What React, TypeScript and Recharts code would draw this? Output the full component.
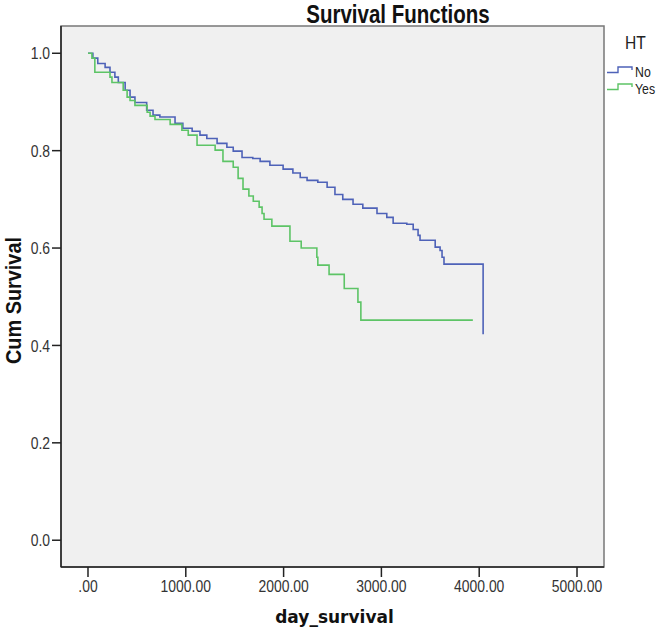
import { Line, LineChart, ReferenceArea, XAxis, YAxis } from "recharts";

// Kaplan-Meier steps, HT = No / Yes
const noDays = [0, 50, 100, 175, 225, 275, 310, 380, 430, 480, 600, 665, 735, 890, 970, 1065, 1145, 1215, 1320, 1420, 1485, 1575, 1685, 1760, 1860, 1995, 2095, 2170, 2240, 2350, 2445, 2525, 2605, 2710, 2810, 2955, 3055, 3120, 3260, 3325, 3375, 3395, 3550, 3600, 3620, 3640, 4040];
const noSurv = [1.0, 0.99, 0.979, 0.971, 0.961, 0.951, 0.94, 0.924, 0.91, 0.899, 0.883, 0.873, 0.869, 0.856, 0.846, 0.84, 0.832, 0.825, 0.815, 0.807, 0.799, 0.786, 0.784, 0.778, 0.77, 0.762, 0.754, 0.745, 0.739, 0.735, 0.725, 0.71, 0.7, 0.69, 0.682, 0.671, 0.663, 0.651, 0.649, 0.638, 0.626, 0.616, 0.602, 0.595, 0.581, 0.567, 0.423];

const yesDays = [0, 40, 70, 225, 245, 360, 400, 430, 480, 605, 635, 685, 840, 960, 1025, 1115, 1300, 1380, 1485, 1535, 1585, 1645, 1690, 1750, 1780, 1800, 1880, 2065, 2180, 2340, 2350, 2465, 2620, 2760, 2790, 3935];
const yesSurv = [1.0, 0.99, 0.961, 0.951, 0.94, 0.924, 0.91, 0.903, 0.893, 0.879, 0.871, 0.864, 0.854, 0.842, 0.832, 0.811, 0.801, 0.778, 0.766, 0.743, 0.721, 0.707, 0.696, 0.684, 0.671, 0.659, 0.645, 0.614, 0.6, 0.581, 0.565, 0.546, 0.517, 0.489, 0.452, 0.452];

const xTicks = [0, 1000, 2000, 3000, 4000, 5000];
const yTicks = [0, 0.2, 0.4, 0.6, 0.8, 1.0];
const groups = ["No", "Yes"];

const X_DOMAIN: [number, number] = [-276, 5276];
const Y_DOMAIN: [number, number] = [-0.055, 1.056];

const BLUE = "#4e62b8";
const GREEN = "#5dc466";
const FONT = "'Liberation Sans', Arial, sans-serif";
const SQUEEZE = 0.82; // the original uses a narrow face

const noData = noDays.map((t, i) => ({ t, s: noSurv[i] }));
const yesData = yesDays.map((t, i) => ({ t, s: yesSurv[i] }));

const fmtX = (v: number) => (v === 0 ? ".00" : v.toFixed(2));

function XTick({ x, y, payload }: any) {
  return (
    <text transform={`translate(${x}, ${y}) scale(${SQUEEZE}, 1)`} textAnchor="middle" dy="0.71em"
      style={{ fontFamily: FONT, fontSize: 17, fill: "#333" }}>
      {fmtX(payload.value)}
    </text>
  );
}

function YTick({ x, y, payload }: any) {
  return (
    <text transform={`translate(${x}, ${y}) scale(${SQUEEZE}, 1)`} textAnchor="end" dy="0.36em"
      style={{ fontFamily: FONT, fontSize: 17, fill: "#333" }}>
      {payload.value.toFixed(1)}
    </text>
  );
}

function YTitle({ viewBox }: any) {
  const cy = viewBox.y + viewBox.height / 2 + 4;
  return (
    <text x={13} y={cy} transform={`rotate(-90, 13, ${cy})`} textAnchor="middle" dominantBaseline="central"
      textLength={127} lengthAdjust="spacingAndGlyphs"
      style={{ fontFamily: FONT, fontWeight: 700, fontSize: 22, fill: "#111" }}>
      Cum Survival
    </text>
  );
}

function XTitle({ viewBox }: any) {
  const cx = viewBox.x + viewBox.width / 2 + 2;
  return (
    <text x={cx} y={617} textAnchor="middle" dominantBaseline="central"
      style={{ fontFamily: "'DejaVu Sans', sans-serif", fontWeight: 700, fontSize: 17, fill: "#111" }}>
      day_survival
    </text>
  );
}

function StepIcon({ color }: { color: string }) {
  return (
    <svg width={30} height={17} style={{ display: "block", flex: "none" }}>
      <path d="M2 9.5 H13 V4 H27 V7" fill="none" stroke={color} strokeWidth={1.4} />
    </svg>
  );
}

const squeezed = { display: "inline-block", transform: `scaleX(${SQUEEZE})`, transformOrigin: "left center" };

function HTLegend() {
  const colors = [BLUE, GREEN];
  return (
    <div style={{ position: "absolute", left: 605, top: 30, fontFamily: FONT, color: "#222" }}>
      <div style={{ fontSize: 19, lineHeight: "26px", marginLeft: 20 }}>
        <span style={squeezed}>HT</span>
      </div>
      <div style={{ marginTop: 7 }}>
        {groups.map((g, i) => (
          <div key={g} style={{ display: "flex", alignItems: "center", height: 17 }}>
            <StepIcon color={colors[i]} />
            <span style={{ ...squeezed, fontSize: 15, lineHeight: "15px" }}>{g}</span>
          </div>
        ))}
      </div>
    </div>
  );
}

export default function App() {
  return (
    <div style={{ position: "absolute", left: 0, top: 0, width: 663, height: 630, background: "#fff" }}>
      <div style={{ position: "absolute", left: 398, top: 1, transform: `translateX(-50%) scaleX(${SQUEEZE})`,
        whiteSpace: "nowrap", fontFamily: FONT, fontWeight: 700, fontSize: 25, lineHeight: "27px", color: "#111" }}>
        Survival Functions
      </div>
      <LineChart width={663} height={630} margin={{ top: 26, right: 59, bottom: 0, left: 0 }}>
        <ReferenceArea x1={X_DOMAIN[0]} x2={X_DOMAIN[1]} y1={Y_DOMAIN[0]} y2={Y_DOMAIN[1]}
          fill="#f0f0f0" fillOpacity={1} stroke="#777" strokeWidth={1.5} ifOverflow="visible" />
        <XAxis type="number" dataKey="t" domain={X_DOMAIN} allowDataOverflow ticks={xTicks}
          height={63} tickSize={10} tickMargin={3} interval={0}
          axisLine={{ stroke: "#222", strokeWidth: 1.5 }} tickLine={{ stroke: "#222", strokeWidth: 1.5 }}
          tick={(p: any) => <XTick {...p} />}
          label={{ content: (p: any) => <XTitle {...p} /> }} />
        <YAxis type="number" domain={Y_DOMAIN} allowDataOverflow ticks={yTicks}
          width={61} tickSize={9} tickMargin={2} interval={0}
          axisLine={{ stroke: "#222", strokeWidth: 1.5 }} tickLine={{ stroke: "#222", strokeWidth: 1.5 }}
          tick={(p: any) => <YTick {...p} />}
          label={{ content: (p: any) => <YTitle {...p} /> }} />
        <Line data={noData} dataKey="s" name="No" type="stepAfter" stroke={BLUE} strokeWidth={1.6}
          dot={false} activeDot={false} isAnimationActive={false} />
        <Line data={yesData} dataKey="s" name="Yes" type="stepAfter" stroke={GREEN} strokeWidth={1.6}
          dot={false} activeDot={false} isAnimationActive={false} />
      </LineChart>
      <HTLegend />
    </div>
  );
}
